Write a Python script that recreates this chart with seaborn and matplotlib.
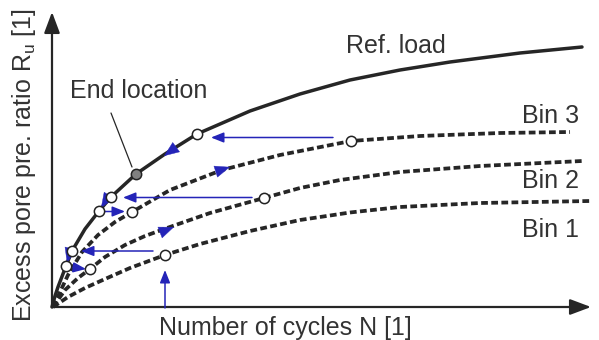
import matplotlib
matplotlib.use("Agg")
import matplotlib.pyplot as plt
import seaborn as sns
import pandas as pd

sns.set_theme(style="white")
plt.rcParams["font.family"] = ["Liberation Sans", "DejaVu Sans"]
plt.rcParams["mathtext.fontset"] = "custom"
plt.rcParams["mathtext.rm"] = "Liberation Sans"
plt.rcParams["mathtext.default"] = "regular"

# ---- data (schematic units: N = cycles, R = pore-pressure ratio) ----
ref_N = [0, 3, 6, 14, 20, 33, 47, 59, 84, 113, 145, 198, 248, 298, 348, 398, 468, 530]
ref_R = [0, 11, 20, 41, 56, 78, 96, 110, 133, 153, 173, 196, 213, 227, 237, 245, 254, 260]

bin3_N = [1, 8, 16, 30, 46, 63, 80, 118, 170, 228, 299, 368, 448, 518]
bin3_R = [0, 15, 32, 55, 72, 85, 95, 117, 137, 152, 166, 171, 174, 175]

bin2_N = [1, 13, 26, 38, 53, 73, 93, 115, 158, 212, 248, 288, 348, 428, 530]
bin2_R = [0, 17, 29, 38, 50, 62, 71, 79, 94, 109, 119, 127, 135, 141, 146]

bin1_N = [1, 16, 33, 53, 78, 113, 148, 198, 248, 298, 348, 428, 538]
bin1_R = [0, 10, 19, 28, 39, 52, 63, 76, 87, 94.5, 100, 104, 106]

# state points (open circles) and end location (grey)
pts_N = [14, 20, 47, 59, 145, 38, 80, 113, 212, 299]
pts_R = [41, 56, 96, 110, 173, 38, 95, 52, 109, 166]
end_N = [84]
end_R = [133]

# path arrows: (tail N, tail R, tip N, tip R)
path_arrows = [
    (281, 169.5, 159, 169.5),
    (200, 109.5, 71, 109.5),
    (101, 56, 29, 56),
    (52, 95.5, 73, 95.5),
    (18, 40, 34, 38),
    (113, -1, 113, 37),
]
dir_arrows = [
    (123, 159, 112, 151),
    (56, 110, 49, 99),
    (18, 56, 15, 44),
    (164, 135.5, 178, 140),
    (108, 74.5, 122, 80),
]

curve_labels = ["Ref. load", "Bin 3", "Bin 2", "Bin 1"]
label_N = [344, 499, 499, 499]
label_R = [254, 184, 119, 70]

rows = []
for name, xs, ys in [("Ref. load", ref_N, ref_R), ("Bin 3", bin3_N, bin3_R),
                     ("Bin 2", bin2_N, bin2_R), ("Bin 1", bin1_N, bin1_R)]:
    for i, (x, y) in enumerate(zip(xs, ys)):
        rows.append({"curve": name, "N": x, "R": y, "order": i})
df = pd.DataFrame(rows)

fig = plt.figure(figsize=(5.99, 3.40), dpi=100)
ax = fig.add_axes([0, 0, 1, 1])

ink = "#262626"
txt = "#333333"
blue = "#2424b8"

sns.lineplot(data=df[df.curve == "Ref. load"], x="N", y="R", sort=False,
             estimator=None, color=ink, lw=2.5, ax=ax, legend=False)
for name in ["Bin 3", "Bin 2", "Bin 1"]:
    n_before = len(ax.lines)
    sns.lineplot(data=df[df.curve == name], x="N", y="R", sort=False,
                 estimator=None, color=ink, lw=2.7, ax=ax, legend=False)
    for ln in ax.lines[n_before:]:
        ln.set_linestyle((0, (1.8, 0.9)))
        ln.set_dash_capstyle("butt")

ax.set_xlim(-52, 547)
ax.set_ylim(-33, 307)
ax.axis("off")

# axes with arrows
ax.annotate("", xy=(539, 0), xytext=(0, 0),
            arrowprops=dict(arrowstyle="-|>,head_length=0.8,head_width=0.3",
                            color=ink, lw=1.6, mutation_scale=16,
                            shrinkA=0, shrinkB=0))
ax.annotate("", xy=(0, 295), xytext=(0, 0),
            arrowprops=dict(arrowstyle="-|>,head_length=0.8,head_width=0.3",
                            color=ink, lw=1.6, mutation_scale=16,
                            shrinkA=0, shrinkB=0))

for tx, ty, hx, hy in path_arrows:
    ax.annotate("", xy=(hx, hy), xytext=(tx, ty),
                arrowprops=dict(arrowstyle="-|>,head_length=0.7,head_width=0.28",
                                color=blue, lw=1.1, mutation_scale=11,
                                shrinkA=0, shrinkB=0))
for tx, ty, hx, hy in dir_arrows:
    ax.annotate("", xy=(hx, hy), xytext=(tx, ty),
                arrowprops=dict(arrowstyle="-|>,head_length=0.8,head_width=0.32",
                                color=blue, lw=0.3, mutation_scale=13,
                                shrinkA=0, shrinkB=0))

sns.scatterplot(x=pts_N, y=pts_R, s=55, color="white", edgecolor="#222222",
                linewidth=1.1, ax=ax, zorder=5)
sns.scatterplot(x=end_N, y=end_R, s=55, color="#808080", edgecolor="#222222",
                linewidth=1.1, ax=ax, zorder=5)

# leader line for end location
ax.plot([59, 80], [194, 140], color=ink, lw=0.9)

fs = 18
for lab, x, y in zip(curve_labels, label_N, label_R):
    ax.text(x, y, lab, fontsize=fs, color=txt, ha="center", va="baseline")
ax.text(87, 209, "End location", fontsize=fs, color=txt, ha="center", va="baseline")
ax.text(233, -28, "Number of cycles N [1]", fontsize=fs, color=txt,
        ha="center", va="baseline")
ax.text(-28, 142, r"Excess pore pre. ratio R$_u$ [1]", fontsize=fs, color=txt,
        ha="center", va="center", rotation=90)

fig.savefig("out.png", dpi=100)
